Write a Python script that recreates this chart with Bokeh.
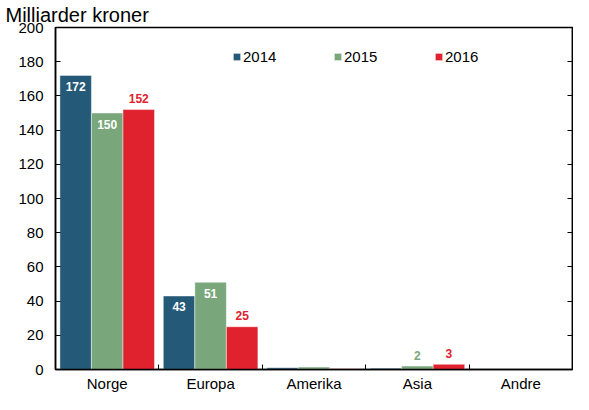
from bokeh.plotting import figure
from bokeh.models import (ColumnDataSource, LinearAxis, FixedTicker, Legend,
                          LegendItem, Range1d)
from bokeh.embed import file_html
from bokeh.resources import INLINE
from bokeh.core.properties import value

regions = ["Norge", "Europa", "Amerika", "Asia", "Andre"]
years = ["2014", "2015", "2016"]
v2014 = [172, 43, 1.0, 0.8, 0]
v2015 = [150, 51, 1.4, 2, 0]
v2016 = [152, 25, 0.4, 3, 0]
y_ticks = [0, 20, 40, 60, 80, 100, 120, 140, 160, 180, 200]
colors = ["#245a78", "#79a77b", "#e0212e"]
label_colors = ["#ffffff", "#ffffff", "#e0212e"]
small_label_colors = ["#245a78", "#79a77b", "#e0212e"]
title_text = "Milliarder kroner"

FONT = "Liberation Sans"
series = [v2014, v2015, v2016]
bar_w = 0.305
offsets = [-bar_w, 0.0, bar_w]

p = figure(width=573, height=394, output_backend="svg", toolbar_location=None,
           x_range=Range1d(0, len(regions)), y_range=Range1d(0, 200),
           min_border_left=55, min_border_right=1, min_border_top=0,
           min_border_bottom=0)
p.title.text = title_text
p.title.align = "left"
p.title.offset = -50
p.title.text_font = FONT
p.title.text_font_size = "20px"
p.title.text_font_style = "normal"
p.title.text_color = "black"
p.title.standoff = 3

p.xgrid.visible = False
p.ygrid.visible = False
p.outline_line_color = "black"
p.outline_line_width = 1.5
p.background_fill_color = "white"
p.border_fill_color = "white"

items = []
for i, (yr, vals) in enumerate(zip(years, series)):
    xs = [k + 0.5 + offsets[i] for k in range(len(regions))]
    src = ColumnDataSource(dict(x=xs, top=vals))
    r = p.vbar(x="x", top="top", width=bar_w, bottom=0, source=src,
               fill_color=colors[i], line_color="white", line_alpha=0.45,
               line_width=1)
    items.append(LegendItem(label=yr, renderers=[r]))

    # value labels
    in_x, in_y, in_t = [], [], []
    out_x, out_y, out_t = [], [], []
    for k, v in enumerate(vals):
        if v < 2:
            continue
        if i < 2 and v >= 30:
            in_x.append(xs[k]); in_y.append(v); in_t.append(str(int(round(v))))
        else:
            out_x.append(xs[k]); out_y.append(v); out_t.append(str(int(round(v))))
    if in_x:
        p.text(x=in_x, y=in_y, text=in_t, text_align="center",
               text_baseline="middle", y_offset=11, text_color=label_colors[i],
               text_font=value(FONT), text_font_size="12px",
               text_font_style="bold")
    if out_x:
        p.text(x=out_x, y=out_y, text=out_t, text_align="center",
               text_baseline="middle", y_offset=-11,
               text_color=small_label_colors[i],
               text_font=value(FONT), text_font_size="12px",
               text_font_style="bold")

# bottom axis: labels at centres, tick marks at boundaries
xa = p.xaxis[0]
xa.ticker = FixedTicker(ticks=[k + 0.5 for k in range(len(regions))],
                        minor_ticks=list(range(1, len(regions))))
xa.major_label_overrides = {k + 0.5: name for k, name in enumerate(regions)}
xa.major_tick_line_color = None
xa.major_tick_in = 0
xa.major_tick_out = 0
xa.minor_tick_in = 5
xa.minor_tick_out = 0
xa.minor_tick_line_color = "black"
xa.minor_tick_line_width = 1
xa.axis_line_color = "black"
xa.axis_line_width = 1.5
xa.major_label_text_font = FONT
xa.major_label_text_font_size = "15px"
xa.major_label_text_color = "black"
xa.major_label_standoff = 5

ya = p.yaxis[0]
ya.ticker = FixedTicker(ticks=y_ticks)
ya.major_tick_in = 5
ya.major_tick_out = 0
ya.minor_tick_line_color = None
ya.axis_line_width = 1.5
ya.axis_line_color = "black"
ya.major_label_text_font = FONT
ya.major_label_text_font_size = "15px"
ya.major_label_text_color = "black"
ya.major_label_standoff = 12

ra = LinearAxis(ticker=FixedTicker(ticks=y_ticks))
ra.major_label_overrides = {t: "" for t in y_ticks}
ra.major_tick_in = 5
ra.major_tick_out = 0
ra.minor_tick_line_color = None
ra.axis_line_width = 1.5
ra.major_label_standoff = 0
p.add_layout(ra, "right")

legend = Legend(items=items, orientation="horizontal", location=(177, 304),
                glyph_width=9, glyph_height=9, label_standoff=2,
                label_width=90, spacing=0, padding=0, margin=0,
                border_line_color=None, background_fill_alpha=0,
                label_text_font=FONT, label_text_font_size="15px",
                label_text_color="black", label_height=18)
p.add_layout(legend, "center")

open("out.html", "w").write(file_html(p, INLINE))
